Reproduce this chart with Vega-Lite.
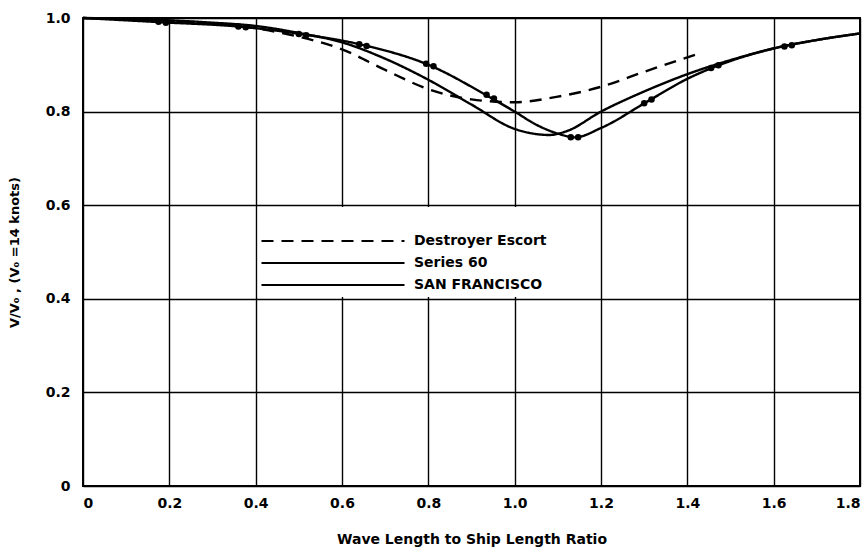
{
  "$schema": "https://vega.github.io/schema/vega-lite/v6.json",
  "width": 777,
  "height": 468,
  "autosize": {"type": "none"},
  "padding": {"left": 83, "top": 18, "right": 8, "bottom": 70},
  "background": "white",
  "config": {
    "view": {"stroke": "black", "strokeWidth": 2},
    "font": "DejaVu Sans"
  },
  "datasets": {
    "blank": [{"x": 0.405, "x2": 1.195, "v": 0.404, "v2": 0.596}],
    "curves": [
      {"series": "Destroyer Escort", "x": 0, "v": 1.0},
      {"series": "Destroyer Escort", "x": 0.1, "v": 0.998},
      {"series": "Destroyer Escort", "x": 0.2, "v": 0.994},
      {"series": "Destroyer Escort", "x": 0.3, "v": 0.988},
      {"series": "Destroyer Escort", "x": 0.4, "v": 0.978},
      {"series": "Destroyer Escort", "x": 0.5, "v": 0.96},
      {"series": "Destroyer Escort", "x": 0.6, "v": 0.933},
      {"series": "Destroyer Escort", "x": 0.7, "v": 0.889},
      {"series": "Destroyer Escort", "x": 0.8, "v": 0.848},
      {"series": "Destroyer Escort", "x": 0.9, "v": 0.826},
      {"series": "Destroyer Escort", "x": 1.0, "v": 0.82},
      {"series": "Destroyer Escort", "x": 1.1, "v": 0.832},
      {"series": "Destroyer Escort", "x": 1.2, "v": 0.853},
      {"series": "Destroyer Escort", "x": 1.3, "v": 0.885},
      {"series": "Destroyer Escort", "x": 1.42, "v": 0.922},
      {"series": "Series 60", "x": 0, "v": 1.0},
      {"series": "Series 60", "x": 0.1, "v": 0.998},
      {"series": "Series 60", "x": 0.2, "v": 0.995},
      {"series": "Series 60", "x": 0.3, "v": 0.99},
      {"series": "Series 60", "x": 0.4, "v": 0.983},
      {"series": "Series 60", "x": 0.5, "v": 0.968},
      {"series": "Series 60", "x": 0.6, "v": 0.948},
      {"series": "Series 60", "x": 0.7, "v": 0.913},
      {"series": "Series 60", "x": 0.8, "v": 0.868},
      {"series": "Series 60", "x": 0.9, "v": 0.815},
      {"series": "Series 60", "x": 1.0, "v": 0.763},
      {"series": "Series 60", "x": 1.05, "v": 0.752},
      {"series": "Series 60", "x": 1.08, "v": 0.75},
      {"series": "Series 60", "x": 1.12, "v": 0.758},
      {"series": "Series 60", "x": 1.2, "v": 0.8},
      {"series": "Series 60", "x": 1.3, "v": 0.843},
      {"series": "Series 60", "x": 1.4, "v": 0.88},
      {"series": "Series 60", "x": 1.5, "v": 0.91},
      {"series": "Series 60", "x": 1.6, "v": 0.935},
      {"series": "Series 60", "x": 1.7, "v": 0.953},
      {"series": "Series 60", "x": 1.8, "v": 0.967},
      {"series": "SAN FRANCISCO", "x": 0, "v": 1.0},
      {"series": "SAN FRANCISCO", "x": 0.18, "v": 0.991},
      {"series": "SAN FRANCISCO", "x": 0.37, "v": 0.981},
      {"series": "SAN FRANCISCO", "x": 0.51, "v": 0.965},
      {"series": "SAN FRANCISCO", "x": 0.65, "v": 0.942},
      {"series": "SAN FRANCISCO", "x": 0.8, "v": 0.9},
      {"series": "SAN FRANCISCO", "x": 0.94, "v": 0.832},
      {"series": "SAN FRANCISCO", "x": 1.0, "v": 0.8},
      {"series": "SAN FRANCISCO", "x": 1.05, "v": 0.772},
      {"series": "SAN FRANCISCO", "x": 1.1, "v": 0.753},
      {"series": "SAN FRANCISCO", "x": 1.14, "v": 0.745},
      {"series": "SAN FRANCISCO", "x": 1.2, "v": 0.765},
      {"series": "SAN FRANCISCO", "x": 1.31, "v": 0.823},
      {"series": "SAN FRANCISCO", "x": 1.4, "v": 0.87},
      {"series": "SAN FRANCISCO", "x": 1.47, "v": 0.898},
      {"series": "SAN FRANCISCO", "x": 1.6, "v": 0.935},
      {"series": "SAN FRANCISCO", "x": 1.7, "v": 0.953},
      {"series": "SAN FRANCISCO", "x": 1.8, "v": 0.967}
    ],
    "dots": [
      {"x": 0.175, "v": 0.992}, {"x": 0.192, "v": 0.99},
      {"x": 0.36, "v": 0.982}, {"x": 0.377, "v": 0.98},
      {"x": 0.5, "v": 0.966}, {"x": 0.517, "v": 0.963},
      {"x": 0.64, "v": 0.944}, {"x": 0.657, "v": 0.94},
      {"x": 0.795, "v": 0.902}, {"x": 0.812, "v": 0.897},
      {"x": 0.935, "v": 0.836}, {"x": 0.952, "v": 0.828},
      {"x": 1.13, "v": 0.745}, {"x": 1.147, "v": 0.745},
      {"x": 1.3, "v": 0.818}, {"x": 1.317, "v": 0.826},
      {"x": 1.455, "v": 0.893}, {"x": 1.472, "v": 0.899},
      {"x": 1.625, "v": 0.939}, {"x": 1.642, "v": 0.942}
    ]
  },
  "layer": [
    {
      "data": {"name": "blank"},
      "mark": {"type": "rect", "fill": "white"},
      "encoding": {
        "x": {
          "field": "x", "type": "quantitative",
          "scale": {"domain": [0, 1.8], "nice": false, "zero": false},
          "axis": {
            "values": [0, 0.2, 0.4, 0.6, 0.8, 1.0, 1.2, 1.4, 1.6, 1.8],
            "labelExpr": "datum.value == 0 ? '0' : format(datum.value, '.1f')",
            "grid": true, "gridColor": "black", "gridOpacity": 1, "gridWidth": 1.4,
            "domain": false, "ticks": false,
            "labelFontSize": 14, "labelFontWeight": "bold", "labelColor": "black", "labelPadding": 10,
            "title": "Wave Length to Ship Length Ratio",
            "titleFontSize": 14, "titleFontWeight": "bold", "titleColor": "black", "titlePadding": 22
          }
        },
        "x2": {"field": "x2"},
        "y": {
          "field": "v", "type": "quantitative",
          "scale": {"domain": [0, 1.0], "nice": false, "zero": false},
          "axis": {
            "values": [0, 0.2, 0.4, 0.6, 0.8, 1.0],
            "labelExpr": "datum.value == 0 ? '0' : format(datum.value, '.1f')",
            "grid": true, "gridColor": "black", "gridOpacity": 1, "gridWidth": 1.4,
            "domain": false, "ticks": false,
            "labelFontSize": 14, "labelFontWeight": "bold", "labelColor": "black", "labelPadding": 13,
            "title": "V/V₀ , (V₀ =14 knots)",
            "titleFontSize": 13, "titleFontWeight": "bold", "titleColor": "black", "titlePadding": 24
          }
        },
        "y2": {"field": "v2"}
      }
    },
    {
      "data": {"name": "curves"},
      "mark": {"type": "line", "color": "black", "strokeWidth": 2.4, "interpolate": "monotone"},
      "encoding": {
        "x": {"field": "x", "type": "quantitative"},
        "y": {"field": "v", "type": "quantitative"},
        "strokeDash": {
          "field": "series", "type": "nominal",
          "scale": {"domain": ["Destroyer Escort", "Series 60", "SAN FRANCISCO"], "range": [[12, 8], [1, 0], [1, 0]]},
          "legend": {
            "orient": "none", "legendX": 243, "legendY": 216,
            "title": null, "symbolType": "M-71.5,0H71.5", "symbolSize": 4,
            "symbolStrokeWidth": 2, "symbolStrokeColor": "black",
            "labelFontSize": 14, "labelFontWeight": "bold", "labelColor": "black",
            "labelOffset": 74, "rowPadding": 8, "padding": 0
          }
        }
      }
    },
    {
      "data": {"name": "dots"},
      "mark": {"type": "circle", "color": "black", "size": 42, "opacity": 1},
      "encoding": {
        "x": {"field": "x", "type": "quantitative"},
        "y": {"field": "v", "type": "quantitative"}
      }
    }
  ]
}
